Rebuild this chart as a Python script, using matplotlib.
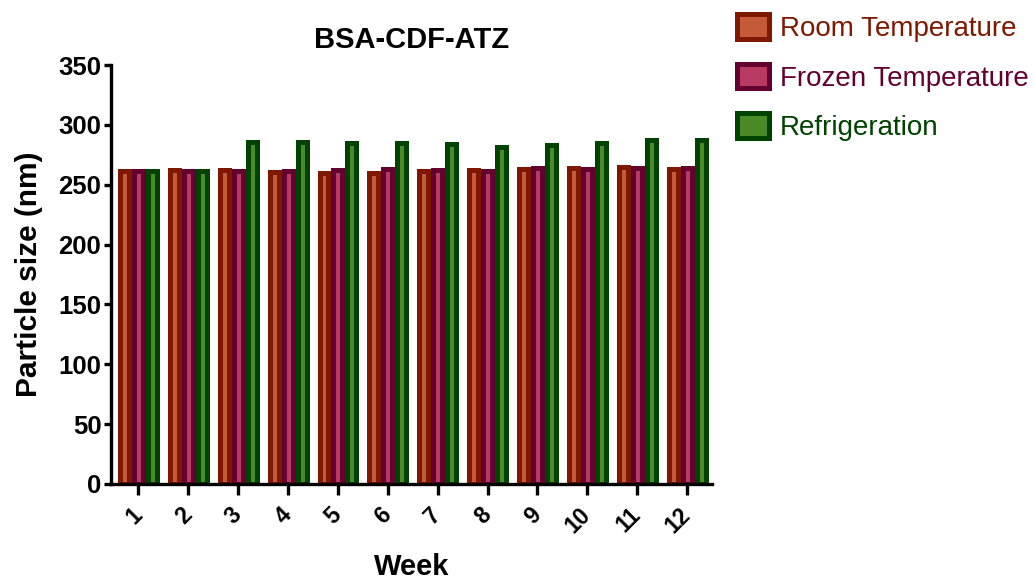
import matplotlib.pyplot as plt
import numpy as np

plt.rcParams['font.family'] = ['Liberation Sans', 'DejaVu Sans']

# particle size (nm) per week for each storage condition
weeks = list(range(1, 13))
room_temp = [261.2, 262.5, 262.3, 260.6, 259.8, 259.8, 261.2, 262.3, 263.1, 263.9, 264.5, 263.4]
frozen_temp = [261.2, 261.7, 261.7, 261.2, 262.3, 262.8, 262.5, 261.7, 263.9, 263.4, 263.9, 263.6]
refrigeration = [261.2, 261.2, 285.4, 285.7, 285.1, 284.5, 283.7, 281.8, 282.9, 284.5, 287.6, 287.0]

series = [
    ("Room Temperature", room_temp, "#c45a38", "#7e1800"),
    ("Frozen Temperature", frozen_temp, "#b83a62", "#640030"),
    ("Refrigeration", refrigeration, "#4c8a26", "#004200"),
]

fig = plt.figure(figsize=(10.34, 5.81), dpi=100)
ax = fig.add_axes([0.1074, 0.167, 0.5812, 0.721])

x = np.array(weeks)
step = 0.28
handles = []
for i, (name, vals, fill, edge) in enumerate(series):
    # thick dark outline leaves a thin light stripe down the middle
    b = ax.bar(x + (i - 1) * step, vals, width=0.18, color=fill,
               edgecolor=edge, linewidth=3.6, label=name)
    handles.append(b)

ax.set_xlim(0.45, 12.5)
ax.set_ylim(0, 350)
ax.set_yticks(range(0, 351, 50))
ax.set_xticks(weeks)
ax.set_xticklabels([str(w) for w in weeks], rotation=45, ha='right',
                   va='center', rotation_mode='anchor')

for lab in ax.get_yticklabels():
    lab.set_fontweight('bold')
    lab.set_fontsize(18.5)
for lab in ax.get_xticklabels():
    lab.set_fontweight('bold')
    lab.set_fontsize(16.5)

ax.spines['top'].set_visible(False)
ax.spines['right'].set_visible(False)
for s in ['left', 'bottom']:
    ax.spines[s].set_linewidth(2.4)
ax.tick_params(axis='y', length=5, width=2.4, pad=2)
ax.tick_params(axis='x', length=8, width=2.4, pad=12)

ax.set_title("BSA-CDF-ATZ", fontsize=21, fontweight='bold', pad=12)
ax.set_xlabel("Week", fontsize=21, fontweight='bold', labelpad=11)
ax.set_ylabel("Particle size (nm)", fontsize=21.5, fontweight='bold', labelpad=11)

fig.legend(handles=handles, loc='upper left',
           bbox_to_anchor=(737 / 1034, 1 - 14 / 581),
           frameon=False, fontsize=20, borderpad=0, borderaxespad=0,
           handlelength=1.15, handleheight=1.0, handletextpad=0.4,
           labelspacing=0.78, labelcolor=[s[3] for s in series])

fig.savefig("out.png", dpi=100)
